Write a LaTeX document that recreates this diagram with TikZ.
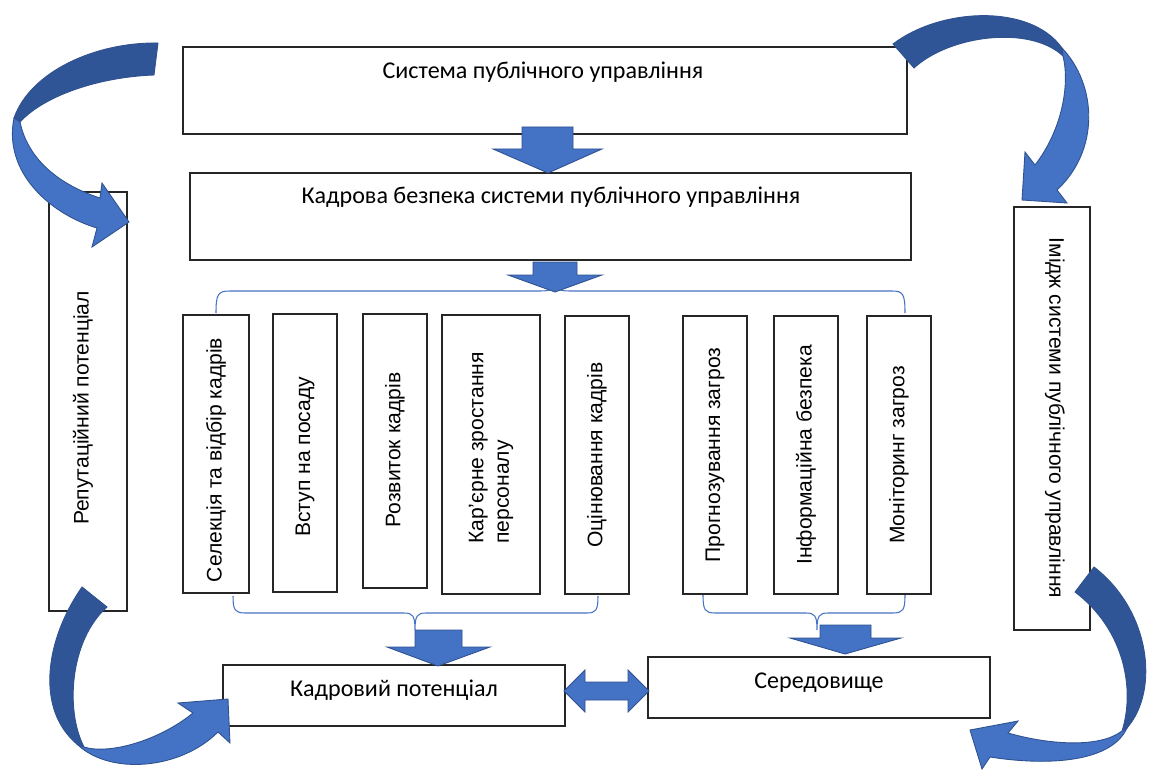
\documentclass[tikz,border=0pt]{standalone}
\usepackage{fontspec}
\setmainfont{Carlito}
\newfontfamily\arialfont{Liberation Sans}
\usetikzlibrary{positioning}

\definecolor{arrowblue}{HTML}{4472C4}
\definecolor{arrowdark}{HTML}{2F5597}
\definecolor{arrowedge}{HTML}{2F528F}

\tikzset{
  box/.style={draw=black!85, line width=0.7pt, fill=white, inner sep=0pt},
  htext/.style={font=\fontsize{13.7}{16}\selectfont},
  vtext/.style={font=\arialfont\fontsize{12}{14.5}\selectfont, rotate=90, align=left},
  blockarrow/.style={fill=arrowblue, draw=arrowedge, line width=0.5pt},
  bandlight/.style={fill=arrowblue, draw=arrowedge, line width=0.5pt},
  banddark/.style={fill=arrowdark, draw=arrowedge, line width=0.5pt},
  brace/.style={draw=arrowblue, line width=0.6pt},
}

\begin{document}
\begin{tikzpicture}[x=0.02cm, y=-0.02cm]
  \fill[white] (0,0) rectangle (1149,770);
  \useasboundingbox (0,0) rectangle (1149,770);

  % main boxes
  \node[box, minimum width=14.48cm, minimum height=1.74cm] (sys) at (545,90.5) {};
  \node[htext] (sys-lbl) at (543,72) {Система публічного управління};
  \node[box, minimum width=14.42cm, minimum height=1.74cm] (kb) at (550.5,216.5) {};
  \node[htext] (kb-lbl) at (551,197) {Кадрова безпека системи публічного управління};

  % side boxes
  \node[box, minimum width=1.56cm, minimum height=8.38cm] (rep) at (88,401.5) {};
  \node[vtext] (rep-lbl) at (83,408) {Репутаційний потенціал};
  \node[box, minimum width=1.52cm, minimum height=8.46cm] (img) at (1052,418.5) {};
  \node[vtext, rotate=180] (img-lbl) at (1055,418) {Імідж системи публічного управління};

  % components
  \node[box, minimum width=1.32cm, minimum height=5.56cm] (sel) at (216,454) {};
  \node[vtext] (sel-lbl) at (216,460) {Селекція та відбір кадрів};
  \node[box, minimum width=1.28cm, minimum height=5.56cm] (vst) at (305,453) {};
  \node[vtext] (vst-lbl) at (305,457) {Вступ на посаду};
  \node[box, minimum width=1.28cm, minimum height=5.48cm] (roz) at (395,451) {};
  \node[vtext] (roz-lbl) at (395,450) {Розвиток кадрів};
  \node[box, minimum width=1.96cm, minimum height=5.58cm] (kar) at (491,454.5) {};
  \node[vtext] (kar-lbl) at (491,448) {Кар’єрне зростання\\ персоналу};
  \node[box, minimum width=1.28cm, minimum height=5.56cm] (oc) at (597,455) {};
  \node[vtext] (oc-lbl) at (oc) {Оцінювання кадрів};
  \node[box, minimum width=1.28cm, minimum height=5.56cm] (pr) at (715,455) {};
  \node[vtext] (pr-lbl) at (pr) {Прогнозування загроз};
  \node[box, minimum width=1.28cm, minimum height=5.56cm] (inf) at (806,455) {};
  \node[vtext] (inf-lbl) at (inf) {Інформаційна безпека};
  \node[box, minimum width=1.28cm, minimum height=5.56cm] (mon) at (899,455) {};
  \node[vtext] (mon-lbl) at (mon) {Моніторинг загроз};

  % bottom boxes
  \node[box, minimum width=6.84cm, minimum height=1.22cm] (kp) at (394,695.5) {};
  \node[htext] (kp-lbl) at (394,690) {Кадровий потенціал};
  \node[box, minimum width=6.84cm, minimum height=1.22cm] (ser) at (819,687.5) {};
  \node[htext] (ser-lbl) at (819,683) {Середовище};

  % braces
  \draw[brace] (216,313) .. controls (216,294) and (218,291) .. (230,291) -- (540,291)
    .. controls (551,291) and (554,289) .. (555,284)
    .. controls (556,289) and (559,291) .. (570,291) -- (892,291)
    .. controls (903,291) and (905,294) .. (905,313);
  \draw[brace] (233,596) .. controls (233,610) and (235,613) .. (245,613) -- (404,613)
    .. controls (413,613) and (415,616) .. (415,630)
    .. controls (415,616) and (417,613) .. (426,613) -- (587,613)
    .. controls (596,613) and (598,610) .. (598,596);
  \draw[brace] (703,595) .. controls (703,610) and (705,613) .. (715,613) -- (806,613)
    .. controls (815,613) and (817,616) .. (817,630)
    .. controls (817,616) and (819,613) .. (828,613) -- (893,613)
    .. controls (903,613) and (905,610) .. (905,595);

  % block arrows
  \draw[blockarrow] (522,127) -- (573,127) -- (573,149) -- (602,149) -- (548,173)
    -- (493,149) -- (522,149) -- cycle;
  \draw[blockarrow] (533,262) -- (577,262) -- (577,275) -- (602,275) -- (555,292)
    -- (508,275) -- (533,275) -- cycle;
  \draw[blockarrow] (415,630) -- (462,630) -- (462,647) -- (490,647) -- (438,666)
    -- (387,647) -- (415,647) -- cycle;
  \draw[blockarrow] (820,625) -- (871,625) -- (871,638) -- (901,638) -- (845,654)
    -- (790,638) -- (820,638) -- cycle;
  \draw[blockarrow] (564,691) -- (585,670) -- (585,682) -- (628,682) -- (628,670)
    -- (649,691) -- (628,712) -- (628,700) -- (585,700) -- (585,712) -- cycle;

  % curved arrows
  \draw[banddark] (158,43) .. controls (95,42) and (30,72) .. (14,118) -- (20,122)
    .. controls (45,95) and (100,77) .. (154,75) -- cycle;
  \draw[bandlight] (14,118) .. controls (3,172) and (50,214) .. (97,228) -- (92,247)
    -- (129,222) -- (102,183) -- (100,198) .. controls (60,185) and (28,160) .. (20,122) -- cycle;

  \draw[banddark] (893,44) .. controls (940,8) and (1030,3) .. (1062,48) -- (1063,56)
    .. controls (1030,25) and (950,35) .. (914,68) -- cycle;
  \draw[bandlight] (1062,48) .. controls (1097,85) and (1100,150) .. (1057,190) -- (1067,203)
    -- (1022,200) -- (1025,152) -- (1035,165) .. controls (1062,130) and (1070,85) .. (1063,56) -- cycle;

  \draw[banddark] (82,587) .. controls (45,640) and (35,710) .. (78,745) -- (84,747)
    .. controls (65,710) and (70,640) .. (107,607) -- cycle;
  \draw[bandlight] (78,745) .. controls (110,775) and (180,770) .. (218,732) -- (230,743)
    -- (228,699) -- (178,703) -- (193,713) .. controls (160,740) and (110,755) .. (84,747) -- cycle;

  \draw[banddark] (1094,567) .. controls (1150,610) and (1160,690) .. (1127,728) -- (1122,731)
    .. controls (1135,690) and (1125,630) .. (1075,592) -- cycle;
  \draw[bandlight] (1127,728) .. controls (1110,765) and (1040,765) .. (990,757) -- (982,769)
    -- (970,730) -- (1018,721) -- (1008,733) .. controls (1050,745) and (1100,748) .. (1122,731) -- cycle;
\end{tikzpicture}
\end{document}
